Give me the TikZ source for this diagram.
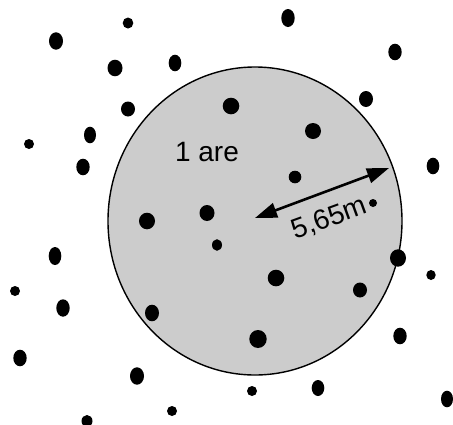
\documentclass[tikz,border=0pt]{standalone}
\usepackage{fontspec}
\setmainfont{Liberation Sans}
\usetikzlibrary{arrows.meta}

\begin{document}
\begin{tikzpicture}[x=1pt, y=-1pt,
  treedot/.style={fill=black},
  labeltext/.style={font=\fontsize{28}{32}\selectfont}]
  \useasboundingbox (0,0) rectangle (453,424);

  % placette
  \draw[line width=1.4pt, fill=black!20] (255,221) ellipse [x radius=147pt, y radius=154pt];
  \coordinate (centre) at (255,218);
  \coordinate (rim) at (389,168);

  % arbres
  \foreach \x/\y/\rx/\ry in {128/23/5.3/5.5, 288/18/6.7/9, 56/41/7/8.7, 395/52/6.7/8.3,
      115/68/7.5/8.3, 175/63/6.3/8.3, 366/99/7/8, 128/109/7/7.5, 231/106/8.3/8.3,
      90/135/6/8.3, 29/144/5/5, 313/131/8/8, 83/167/6.7/8.3, 433/166/6.3/8.3,
      295/177/6.3/6.3, 373/203/4/4, 147/221/8/8.3, 207/213/7.5/8, 217/245/5/5.8,
      55/256/6.3/9, 398/258/8/8.7, 431/275/4.7/5, 15/291/5/5, 276/278/8.3/8.3,
      360/290/7/7.5, 63/308/6.7/8.7, 152/313/7/8.3, 400/336/6.7/8.3, 258/339/8.7/9,
      20/358/6.7/8.3, 137/376/7/8.7, 252/391/5/5, 318/388/6.3/8, 447/399/6/8.3,
      172/411/5/5, 87/421/5.5/6}
    \fill[treedot] (\x,\y) ellipse [x radius=\rx pt, y radius=\ry pt];

  % rayon
  \draw[line width=2.6pt, {Triangle[length=22pt,width=15pt]}-{Triangle[length=22pt,width=15pt]}] (centre) -- (rim);
  \node[labeltext, anchor=base, rotate=20] (rayon) at (332,226) {5,65m};
  \node[labeltext, anchor=base] (aire) at (207,161) {1 are};
\end{tikzpicture}
\end{document}
